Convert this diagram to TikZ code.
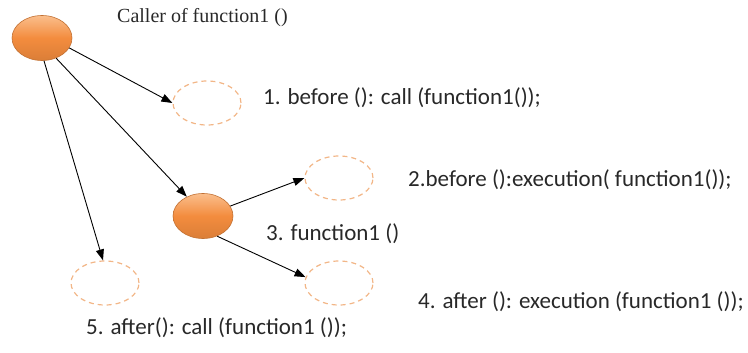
\documentclass[tikz,border=0pt]{standalone}
\usepackage{fontspec}
\setmainfont{Carlito}
\newfontfamily\serifx{Liberation Serif}
\usetikzlibrary{shapes.geometric,arrows.meta}
\definecolor{orfill}{RGB}{243,140,62}
\definecolor{orlight}{RGB}{250,190,140}
\definecolor{ordash}{RGB}{242,182,135}
\definecolor{txt}{RGB}{40,40,40}
\begin{document}
\begin{tikzpicture}[x=1pt,y=-1pt,
  solidnode/.style={ellipse,minimum width=60pt,minimum height=45pt,draw=orfill!80!black,line width=0.6pt,
     top color=orlight,bottom color=orfill!90!black,middle color=orfill},
  emptynode/.style={ellipse,minimum width=68pt,minimum height=44pt,draw=ordash,dashed,dash pattern=on 5pt off 4pt,line width=1.2pt},
  lbl/.style={font=\fontsize{23}{26}\selectfont,text=txt,anchor=west,inner sep=0pt},
  conn/.style={-{Triangle[length=11pt,width=8pt]},line width=0.9pt,black}]
\useasboundingbox (0,0) rectangle (748,353);
\node[solidnode] (caller) at (42,38) {};
\node[emptynode] (e1) at (207,103) {};
\node[emptynode] (e2) at (339,178) {};
\node[solidnode] (f1) at (203,216) {};
\node[emptynode] (e4) at (339,283) {};
\node[emptynode] (e5) at (105,283) {};
\node[font=\serifx\fontsize{20}{22}\selectfont,text=txt,anchor=west,inner sep=0pt] (tc) at (117,18) {Caller of function1 ()};
\node[lbl] (t1) at (263,98) {1. before (): call (function1());};
\node[lbl] (t2) at (408,180) {2.before ():execution( function1());};
\node[lbl] (t3) at (266,234) {3. function1 ()};
\node[lbl] (t4) at (418,302) {4. after (): execution (function1 ());};
\node[lbl] (t5) at (86,328) {5. after(): call (function1 ());};
\draw[conn] (caller.-20) -- (e1.west);
\draw[conn] (caller.-55) -- (f1.130);
\draw[conn] (caller.-85) -- (e5.95);
\draw[conn] (f1.20) -- (e2.west);
\draw[conn] (f1.-55) -- (e4.170);
\end{tikzpicture}
\end{document}
